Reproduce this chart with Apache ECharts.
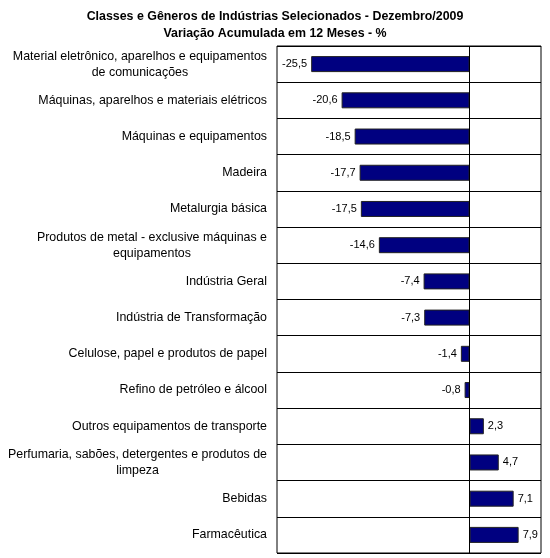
<!DOCTYPE html>
<html>
<head>
<meta charset="utf-8">
<script src="https://cdn.jsdelivr.net/npm/echarts@6/dist/echarts.min.js"></script>
<style>
  html, body { margin: 0; padding: 0; background: #fff; }
  #chart { width: 550px; height: 558px; }
</style>
</head>
<body>
<div id="chart"></div>
<script>
// categories, top to bottom
const categories = [
  'Material eletrônico, aparelhos e equipamentos\nde comunicações',
  'Máquinas, aparelhos e materiais elétricos',
  'Máquinas e equipamentos',
  'Madeira',
  'Metalurgia básica',
  'Produtos de metal - exclusive máquinas e\nequipamentos',
  'Indústria Geral',
  'Indústria de Transformação',
  'Celulose, papel e produtos de papel',
  'Refino de petróleo e álcool',
  'Outros equipamentos de transporte',
  'Perfumaria, sabões, detergentes e produtos de\nlimpeza',
  'Bebidas',
  'Farmacêutica'
]
const values = [-25.5, -20.6, -18.5, -17.7, -17.5, -14.6, -7.4, -7.3, -1.4, -0.8, 2.3, 4.7, 7.1, 7.9]

const fmt = (v) => v.toFixed(1).replace('.', ',')

const chart = echarts.init(document.getElementById('chart'))

chart.setOption({
  animation: false,
  title: {
    text: 'Classes e Gêneros de Indústrias Selecionados - Dezembro/2009\nVariação Acumulada em 12 Meses - %',
    left: 'center',
    top: 3,
    textStyle: {
      fontFamily: 'Liberation Sans',
      fontSize: 12.4,
      fontWeight: 'bold',
      color: '#000',
      lineHeight: 17,
    },
  },
  grid: {
    left: 277,
    right: 9,
    top: 46,
    bottom: 5,
    show: true,
    borderColor: '#000',
    borderWidth: 1,
    backgroundColor: '#fff',
  },
  xAxis: {
    type: 'value',
    min: -31,
    max: 11.5,
    show: false,
  },
  yAxis: {
    type: 'category',
    inverse: true,
    data: categories,
    axisLine: { show: false },
    axisTick: { show: false },
    splitLine: { show: true, lineStyle: { color: '#000', width: 1 } },
    axisLabel: {
      margin: 10,
      fontFamily: 'Liberation Sans',
      fontSize: 12.4,
      color: '#000',
      lineHeight: 16,
      formatter: (v) => v.split('\n').map((s) => '{c|' + s + '}').join('\n'),
      rich: {
        c: { align: 'center', fontFamily: 'Liberation Sans', fontSize: 12.4, color: '#000', lineHeight: 16 },
      },
    },
  },
  series: [
    {
      type: 'bar',
      barWidth: 16,
      data: values.map((v) => ({
        value: v,
        label: { position: v < 0 ? 'left' : 'right' },
      })),
      itemStyle: {
        color: '#000080',
        borderColor: '#222',
        borderWidth: 1,
      },
      label: {
        show: true,
        distance: 4,
        fontFamily: 'Liberation Sans',
        fontSize: 11,
        color: '#000',
        formatter: (p) => fmt(p.value),
      },
      markLine: {
        silent: true,
        symbol: 'none',
        label: { show: false },
        lineStyle: { color: '#000', width: 1, type: 'solid' },
        data: [{ xAxis: 0 }],
      },
    },
  ],
})
</script>
</body>
</html>
